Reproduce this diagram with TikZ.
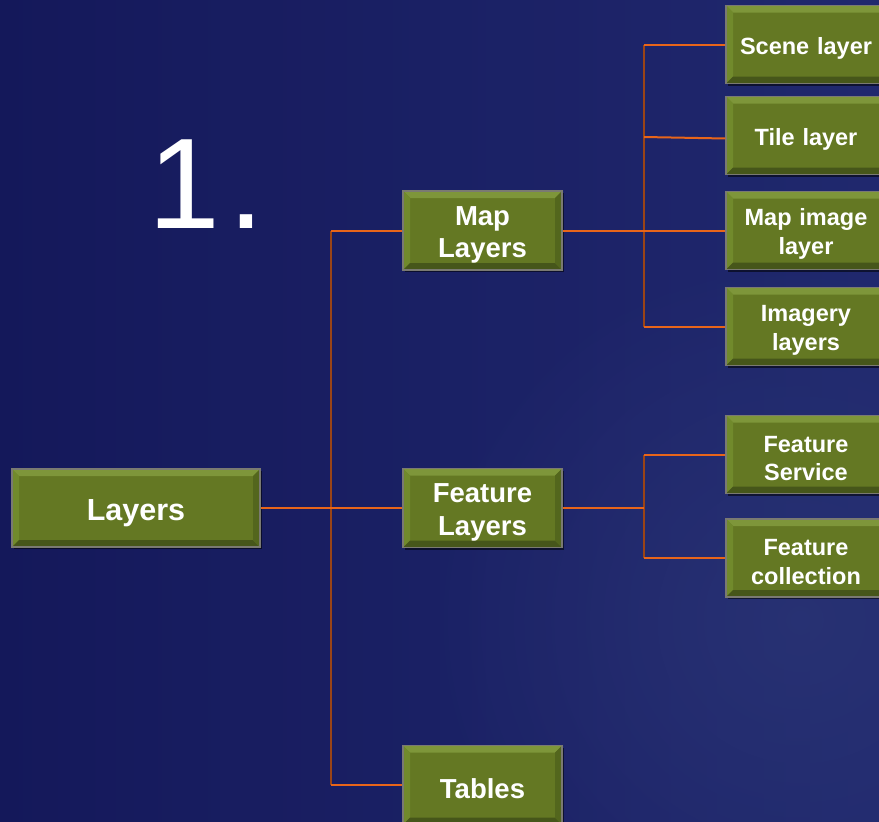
\documentclass[tikz,border=0pt]{standalone}
\usepackage{fontspec}
\setmainfont{Liberation Sans}
\usetikzlibrary{shadows,fadings}
\tikzfading[name=glowfade, inner color=transparent!0, outer color=transparent!100]
\definecolor{bgA}{HTML}{191D66}
\definecolor{bgL}{HTML}{141859}
\definecolor{bgR}{HTML}{222B70}
\definecolor{bgG}{HTML}{2A3475}
\definecolor{boxface}{HTML}{647823}
\definecolor{bevT}{HTML}{7E963A}
\definecolor{bevL}{HTML}{718A2C}
\definecolor{bevB}{HTML}{46561A}
\definecolor{bevR}{HTML}{53661D}
\definecolor{boxedge}{HTML}{7A7A72}
\definecolor{lineor}{HTML}{E8651A}
\definecolor{linevt}{HTML}{9A4416}
\tikzset{
  bevelbox/.style={draw=boxedge, line width=1.2pt, fill=boxface, text=white, align=center,
    inner sep=0pt, text width=144pt,
    execute at begin node={\rule{0pt}{1.02em}},
    drop shadow={shadow xshift=2pt, shadow yshift=-2pt, opacity=0.55, fill=black},
    path picture={
      \fill[bevT] (path picture bounding box.north west) -- (path picture bounding box.north east)
        -- ([xshift=-7pt,yshift=-7pt]path picture bounding box.north east)
        -- ([xshift=7pt,yshift=-7pt]path picture bounding box.north west) -- cycle;
      \fill[bevL] (path picture bounding box.north west) -- ([xshift=7pt,yshift=-7pt]path picture bounding box.north west)
        -- ([xshift=7pt,yshift=7pt]path picture bounding box.south west)
        -- (path picture bounding box.south west) -- cycle;
      \fill[bevB] (path picture bounding box.south west) -- ([xshift=7pt,yshift=7pt]path picture bounding box.south west)
        -- ([xshift=-7pt,yshift=7pt]path picture bounding box.south east)
        -- (path picture bounding box.south east) -- cycle;
      \fill[bevR] (path picture bounding box.north east) -- ([xshift=-7pt,yshift=-7pt]path picture bounding box.north east)
        -- ([xshift=-7pt,yshift=7pt]path picture bounding box.south east)
        -- (path picture bounding box.south east) -- cycle;
    }},
  bigbox/.style={bevelbox, minimum width=248pt, minimum height=78pt, font=\bfseries\fontsize{30.5}{35}\selectfont},
  midbox/.style={bevelbox, minimum width=159pt, minimum height=79pt, font=\bfseries\fontsize{27.5}{32.5}\selectfont},
  smallbox/.style={bevelbox, minimum width=160pt, minimum height=78pt, font=\bfseries\fontsize{23.5}{28.5}\selectfont},
  hl/.style={draw=lineor, line width=2pt},
  vl/.style={draw=linevt, line width=1.6pt},
}
\begin{document}
\begin{tikzpicture}[x=1pt,y=-1pt]
\useasboundingbox (0,0) rectangle (879,822);
% background
\fill[bgA] (0,0) rectangle (879,822);
\shade[left color=bgL, right color=bgR, opacity=0.85] (0,0) rectangle (879,822);
\begin{scope}
\clip (0,0) rectangle (879,822);
\fill[bgG, path fading=glowfade, opacity=0.8] (800,620) circle (380pt);
\end{scope}

% title
\node[anchor=base west, text=white, inner sep=0pt, font=\fontsize{129}{129}\selectfont] (title) at (148,228) {1\kern9pt.};

% coordinates
\coordinate (t1top) at (331,230.5);
\coordinate (t1bot) at (331,785);
\coordinate (t2a) at (644,44.5);
\coordinate (t2b) at (644,137);
\coordinate (t2c) at (644,326.5);
\coordinate (t3m) at (644,508);
\coordinate (t3a) at (644,454.5);
\coordinate (t3b) at (644,558);

% connectors (trunks)
\draw[vl] (t1top) -- (t1bot);
\draw[vl] (t2a) -- (t2c);
\draw[vl] (t3a) -- (t3b);

% nodes
\node[bigbox] (layers) at (136,508) {Layers};
\node[midbox] (map) at (482.5,230.5) {Map\\Layers};
\node[midbox] (feat) at (482.5,508) {Feature\\Layers};
\node[midbox] (tables) at (482.5,785) {Tables};
\node[smallbox] (scene) at (806,44.5) {Scene layer};
\node[smallbox] (tile) at (806,135.5) {Tile layer};
\node[smallbox] (mapimg) at (806,230.5) {Map image\\layer};
\node[smallbox] (imagery) at (806,326.5) {Imagery\\layers};
\node[smallbox] (fserv) at (806,454.5) {Feature\\Service};
\node[smallbox] (fcoll) at (806,558) {Feature\\collection};

\draw[hl] (layers.east) -- (feat.west);
\draw[hl] (t1top) -- (map.west);
\draw[hl] (t1bot) -- (tables.west);
\draw[hl] (map.east) -- (mapimg.west);
\draw[hl] (t2a) -- (scene.west);
\draw[hl] (t2b) -- ([yshift=-3pt]tile.west);
\draw[hl] (t2c) -- (imagery.west);
\draw[hl] (feat.east) -- (t3m);
\draw[hl] (t3a) -- (fserv.west);
\draw[hl] (t3b) -- (fcoll.west);
\end{tikzpicture}
\end{document}
